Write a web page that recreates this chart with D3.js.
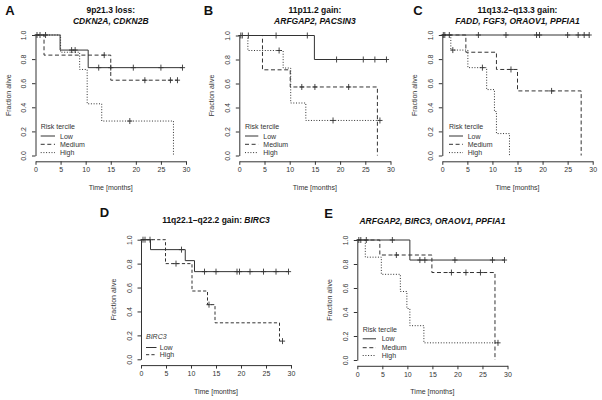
<!DOCTYPE html>
<html><head><meta charset="utf-8">
<script src="https://cdn.jsdelivr.net/npm/d3@7"></script>
<style>
body{margin:0;background:#fff}
svg{display:block}
text{font-family:"Liberation Sans",Arial,Helvetica,sans-serif;fill:#222}
</style>
</head><body>
<svg id="chart" width="602" height="400"></svg>
<script>
// ---------- data ----------
const xTicks = [0, 5, 10, 15, 20, 25, 30];
const yTicks = [0, 0.2, 0.4, 0.6, 0.8, 1.0];
const yTickLabels = ["0.0", "0.2", "0.4", "0.6", "0.8", "1.0"];
const groupsTercile = ["Low", "Medium", "High"];
const groupsBirc3 = ["Low", "High"];
const panelLetters = ["A", "B", "C", "D", "E"];
const titleLine1 = ["9p21.3 loss:", "11p11.2 gain:", "11q13.2\u2013q13.3 gain:", "11q22.1\u2013q22.2 gain: ", ""];
const titleGenes = ["CDKN2A, CDKN2B", "ARFGAP2, PACSIN3", "FADD, FGF3, ORAOV1, PPFIA1", "BIRC3", "ARFGAP2, BIRC3, ORAOV1, PPFIA1"];
const legendTitles = ["Risk tercile", "Risk tercile", "Risk tercile", "BIRC3", "Risk tercile"];

// Panel A: event times, survival after event, censor times
const aLowT = [4.9, 10.5],  aLowS = [0.875, 0.729];
const aLowC = [0.3, 0.9, 2.0, 7.2, 7.9, 12.6, 15.0, 19.5, 25.0, 29.3];
const aMedT = [1.7, 15.0],  aMedS = [0.833, 0.625];
const aMedC = [13.7, 21.8, 26.9, 28.3];
const aHighT = [5.0, 8.8, 10.3, 13.2, 27.5], aHighS = [0.857, 0.714, 0.429, 0.286, 0];
const aHighC = [18.8];

// Panel B
const bLowT = [14.9], bLowS = [0.8];
const bLowC = [0.3, 0.6, 1.8, 7.3, 13.5, 19.3, 24.6, 26.9, 29.2];
const bMedT = [4.6, 10.1, 27.4], bMedS = [0.714, 0.571, 0];
const bMedC = [12.4, 15.0, 21.7];
const bHighT = [1.7, 8.7, 10.2, 13.2], bHighS = [0.875, 0.729, 0.4375, 0.292];
const bHighC = [7.9, 18.6, 27.9];

// Panel C
const cLowT = [], cLowS = [];
const cLowC = [0.2, 0.5, 1.4, 7.2, 12.7, 18.8, 19.4, 25.0, 27.1, 28.3, 29.3];
const cMedT = [4.7, 10.8, 15.0, 27.7], cMedS = [0.857, 0.714, 0.536, 0];
const cMedC = [13.7, 21.8];
const cHighT = [1.7, 5.1, 8.85, 10.4, 10.8, 13.4], cHighS = [0.875, 0.729, 0.547, 0.365, 0.182, 0];
const cHighC = [2.1, 8.0];

// Panel D (BIRC3 low / high)
const dLowT = [1.9, 8.85, 10.7], dLowS = [0.917, 0.825, 0.733];
const dLowC = [0.4, 0.8, 8.1, 12.7, 15.0, 19.2, 19.7, 21.8, 24.5, 27.0, 29.5];
const dHighT = [4.9, 10.2, 13.3, 14.8, 27.7], dHighS = [0.8, 0.571, 0.457, 0.305, 0.152];
const dHighC = [1.8, 7.0, 13.6, 28.3];

// Panel E
const eLowT = [10.5], eLowS = [0.833];
const eLowC = [0.3, 0.7, 1.8, 7.0, 12.5, 13.5, 19.5, 27.0, 29.4];
const eMedT = [4.5, 14.9, 27.5], eMedS = [0.875, 0.729, 0];
const eMedC = [7.8, 18.8, 21.7, 24.6];
const eHighT = [1.6, 4.8, 8.6, 9.9, 10.5, 13.3], eHighS = [0.857, 0.714, 0.571, 0.429, 0.286, 0.143];
const eHighC = [28.1];

// ---------- layout / style ----------
const dashFor = {Low: null, Medium: "4,2.6", High: "1,1.7"};
const dashBirc3 = {Low: null, High: "3.2,2.2"};
const lineColor = "#333";

const layout = [
  {x0: 35.5, x1: 186.0, y1: 35.0, y0: 155.5, letterX: 10, letterY: 15, t1: 12.8, t2: 23.5,
   legX: 40.7, legLine: 14.3, legGap: 5, legY: [126, 136, 144.3, 152.6]},
  {x0: 239.3, x1: 390.5, y1: 35.5, y0: 155.5, letterX: 208.5, letterY: 15, t1: 12.8, t2: 23.5,
   legX: 245, legLine: 13.3, legGap: 5, legY: [126, 136, 144.3, 152.6]},
  {x0: 442.3, x1: 592.7, y1: 35.0, y0: 155.5, letterX: 418, letterY: 15, t1: 12.8, t2: 23.5,
   legX: 449, legLine: 14, legGap: 4.7, legY: [126, 136, 144.3, 152.6]},
  {x0: 141.0, x1: 291.0, y1: 239.7, y0: 359.3, letterX: 104.5, letterY: 217, t1: 223, t2: null,
   legX: 146, legLine: 10.5, legGap: 3.3, legY: [336.7, 347.5, 354.7]},
  {x0: 357.3, x1: 507.5, y1: 240.0, y0: 360.0, letterX: 328.5, letterY: 218, t1: null, t2: 223.5,
   legX: 362.7, legLine: 13.3, legGap: 5.7, legY: [329.3, 338.8, 347.7, 355.5]}
];

const curves = [
  [{g: "Low", t: aLowT, s: aLowS, c: aLowC}, {g: "Medium", t: aMedT, s: aMedS, c: aMedC}, {g: "High", t: aHighT, s: aHighS, c: aHighC}],
  [{g: "Low", t: bLowT, s: bLowS, c: bLowC}, {g: "Medium", t: bMedT, s: bMedS, c: bMedC}, {g: "High", t: bHighT, s: bHighS, c: bHighC}],
  [{g: "Low", t: cLowT, s: cLowS, c: cLowC}, {g: "Medium", t: cMedT, s: cMedS, c: cMedC}, {g: "High", t: cHighT, s: cHighS, c: cHighC}],
  [{g: "Low", t: dLowT, s: dLowS, c: dLowC}, {g: "High", t: dHighT, s: dHighS, c: dHighC}],
  [{g: "Low", t: eLowT, s: eLowS, c: eLowC}, {g: "Medium", t: eMedT, s: eMedS, c: eMedC}, {g: "High", t: eHighT, s: eHighS, c: eHighC}]
];

const svg = d3.select("#chart");

function survAt(times, surv, t) {
  let s = 1;
  for (let i = 0; i < times.length; i++) if (times[i] <= t) s = surv[i];
  return s;
}

layout.forEach((L, pi) => {
  const x = d3.scaleLinear().domain([0, 30]).range([L.x0, L.x1]);
  const y = d3.scaleLinear().domain([0, 1]).range([L.y0, L.y1]);
  const g = svg.append("g");
  const isD = pi === 3;
  const dashes = isD ? dashBirc3 : dashFor;
  const groups = isD ? groupsBirc3 : groupsTercile;

  // panel letter
  g.append("text").attr("x", L.letterX).attr("y", L.letterY)
    .attr("text-anchor", "middle").attr("font-size", 13).attr("font-weight", "bold")
    .style("fill", "#111").text(panelLetters[pi]);

  // titles
  const cx = (L.x0 + L.x1) / 2;
  if (isD) {
    const tt = g.append("text").attr("x", cx).attr("y", L.t1).attr("text-anchor", "middle")
      .attr("font-size", 8.5).attr("font-weight", "bold").style("fill", "#111");
    tt.append("tspan").text(titleLine1[pi]);
    tt.append("tspan").attr("font-style", "italic").text(titleGenes[pi]);
  } else {
    if (L.t1 !== null) {
      g.append("text").attr("x", cx).attr("y", L.t1).attr("text-anchor", "middle")
        .attr("font-size", 8.5).attr("font-weight", "bold").style("fill", "#111").text(titleLine1[pi]);
    }
    g.append("text").attr("x", cx).attr("y", L.t2).attr("text-anchor", "middle")
      .attr("font-size", 8.5).attr("font-weight", "bold").attr("font-style", "italic")
      .style("fill", "#111").text(titleGenes[pi]);
  }

  // x axis
  const xAxisY = L.y0 + 5.8;
  const xa = g.append("g").attr("transform", `translate(0,${xAxisY})`)
    .call(d3.axisBottom(x).tickValues(xTicks).tickSizeInner(3.5).tickSizeOuter(0).tickPadding(2.5));
  xa.select(".domain").attr("stroke", lineColor);
  xa.selectAll(".tick line").attr("stroke", lineColor);
  xa.selectAll(".tick text").attr("font-size", 7).attr("font-family", null).style("fill", "#333");

  // y axis
  const ya = g.append("g").attr("transform", `translate(${L.x0},0)`)
    .call(d3.axisLeft(y).tickValues(yTicks).tickFormat((d, i) => yTickLabels[i])
      .tickSizeInner(3.5).tickSizeOuter(0));
  ya.select(".domain").attr("stroke", lineColor);
  ya.selectAll(".tick line").attr("stroke", lineColor);
  ya.selectAll(".tick text").attr("font-size", 7).attr("font-family", null).style("fill", "#333")
    .attr("x", null).attr("dy", null).attr("text-anchor", "middle")
    .attr("transform", "translate(-9.5,0) rotate(-90)");

  // axis titles
  g.append("text").attr("x", cx).attr("y", xAxisY + 28.5).attr("text-anchor", "middle")
    .attr("font-size", 7).style("fill", "#333").text("Time [months]");
  const ymid = (y(1.04) + y(-0.04)) / 2;
  g.append("text").attr("transform", `translate(${L.x0 - 25},${ymid}) rotate(-90)`)
    .attr("text-anchor", "middle").attr("font-size", 7).style("fill", "#333").text("Fraction alive");

  // curves
  const line = d3.line().x(d => x(d[0])).y(d => y(d[1])).curve(d3.curveStepAfter);
  curves[pi].forEach(cv => {
    const pts = [[0, 1]];
    cv.t.forEach((t, i) => pts.push([t, cv.s[i]]));
    const lastT = cv.t.length ? cv.t[cv.t.length - 1] : 0;
    const lastS = cv.s.length ? cv.s[cv.s.length - 1] : 1;
    const endT = Math.max(lastT, ...cv.c);
    if (endT > lastT) pts.push([endT, lastS]);
    g.append("path").attr("d", line(pts)).attr("fill", "none")
      .attr("stroke", lineColor).attr("stroke-width", 1)
      .attr("stroke-dasharray", dashes[cv.g]);
    g.selectAll(null).data(cv.c).enter().append("path")
      .attr("d", c => {
        const px = x(c), py = y(survAt(cv.t, cv.s, c));
        return `M${px - 2.6},${py}H${px + 2.6}M${px},${py - 3}V${py + 3}`;
      })
      .attr("stroke", lineColor).attr("stroke-width", 0.9).attr("fill", "none");
  });

  // legend
  g.append("text").attr("x", L.legX).attr("y", L.legY[0] + 2.5).attr("font-size", 7)
    .attr("font-style", isD ? "italic" : null).style("fill", "#333").text(legendTitles[pi]);
  groups.forEach((gr, i) => {
    const ly = L.legY[i + 1];
    g.append("line").attr("x1", L.legX).attr("x2", L.legX + L.legLine).attr("y1", ly).attr("y2", ly)
      .attr("stroke", lineColor).attr("stroke-width", 1).attr("stroke-dasharray", dashes[gr]);
    g.append("text").attr("x", L.legX + L.legLine + L.legGap).attr("y", ly + 2.5)
      .attr("font-size", 7).style("fill", "#333").text(gr);
  });
});
</script>
</body></html>
